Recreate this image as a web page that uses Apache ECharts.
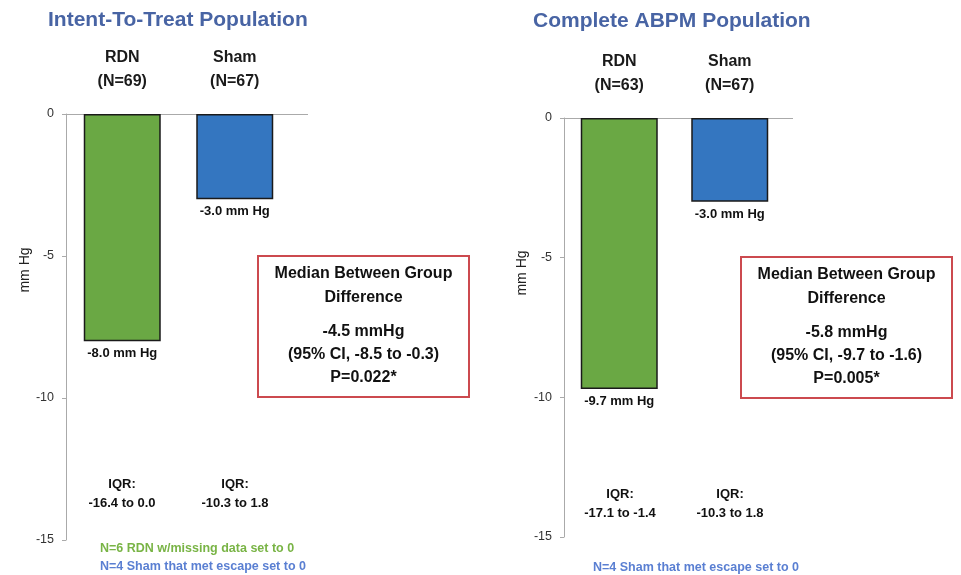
<!DOCTYPE html>
<html>
<head>
<meta charset="utf-8">
<script src="https://cdn.jsdelivr.net/npm/echarts@6/dist/echarts.min.js"></script>
<style>
html,body{margin:0;padding:0;background:#fff;}
#chart{width:961px;height:575px;}
</style>
</head>
<body>
<div id="chart"></div>
<script>
// ---- data ----
const panelTitles = ['Intent-To-Treat Population', 'Complete ABPM Population'];
const categoriesITT = ['RDN\n(N=69)', 'Sham\n(N=67)'];
const valuesITT = [-8.0, -3.0];
const categoriesABPM = ['RDN\n(N=63)', 'Sham\n(N=67)'];
const valuesABPM = [-9.7, -3.0];
const iqrITT = ['-16.4 to 0.0', '-10.3 to 1.8'];
const iqrABPM = ['-17.1 to -1.4', '-10.3 to 1.8'];
const boxITT = ['Median Between Group', 'Difference', '-4.5 mmHg', '(95% CI, -8.5 to -0.3)', 'P=0.022*'];
const boxABPM = ['Median Between Group', 'Difference', '-5.8 mmHg', '(95% CI, -9.7 to -1.6)', 'P=0.005*'];
const notesITT = ['N=6 RDN w/missing data set to 0', 'N=4 Sham that met escape set to 0'];
const notesABPM = ['N=4 Sham that met escape set to 0'];
const yMin = -15, yMax = 0, yStep = 5;
const yAxisName = 'mm Hg';

// ---- styles ----
const FONT = '"Liberation Sans", Arial, sans-serif';
const GREEN = '#6aa844';
const BLUE = '#3476c0';
const TITLE_COLOR = '#4864a4';
const BOX_RED = '#cc4a4f';
const NOTE_GREEN = '#79b446';
const NOTE_BLUE = '#5a7fd2';

const chart = echarts.init(document.getElementById('chart'));

const grids = [
  {left: 66, top: 114, width: 225, height: 426},
  {left: 564, top: 118, width: 221, height: 419}
];

function xAxisFor(i, cats) {
  return {
    type: 'category', gridIndex: i, position: 'top', data: cats,
    axisLine: {show: true, lineStyle: {color: '#aaaaaa', width: 1}},
    axisTick: {show: false},
    axisLabel: {color: '#1a1a1a', fontFamily: FONT, fontWeight: 'bold', fontSize: 16, lineHeight: 24, margin: 20}
  };
}
function yAxisFor(i) {
  return {
    type: 'value', gridIndex: i, min: yMin, max: yMax, interval: yStep,
    axisLine: {show: true, lineStyle: {color: '#aaaaaa', width: 1}},
    axisTick: {show: true, length: 4, lineStyle: {color: '#aaaaaa'}},
    splitLine: {show: false},
    axisLabel: {color: '#333', fontFamily: FONT, fontSize: 12.5, margin: 12}
  };
}
function barSeries(i, vals) {
  return {
    type: 'bar', xAxisIndex: i, yAxisIndex: i, barWidth: 77,
    data: vals.map((v, k) => ({value: v, itemStyle: {color: k === 0 ? GREEN : BLUE}})),
    itemStyle: {borderColor: '#1a1a1a', borderWidth: 1.5},
    label: {
      show: true, position: 'bottom', distance: 6,
      fontFamily: FONT, fontWeight: 'bold', fontSize: 13, color: '#111',
      formatter: p => p.value.toFixed(1) + ' mm Hg'
    },
    emphasis: {disabled: true},
    silent: true
  };
}

function txt(x, y, text, opts) {
  opts = opts || {};
  return {
    type: 'text', x: x, y: y, rotation: opts.rotation || 0, silent: true,
    style: {
      text: text, fill: opts.color || '#111',
      font: (opts.weight || 'bold') + ' ' + (opts.size || 13) + 'px ' + FONT,
      textAlign: opts.align || 'center', textVerticalAlign: 'middle', verticalAlign: 'middle'
    }
  };
}

const graphics = [];
// zero-line extensions
graphics.push({type: 'line', silent: true, shape: {x1: 291, y1: 114.5, x2: 308, y2: 114.5}, style: {stroke: '#aaaaaa', lineWidth: 1}});
graphics.push({type: 'line', silent: true, shape: {x1: 785, y1: 118.5, x2: 793, y2: 118.5}, style: {stroke: '#aaaaaa', lineWidth: 1}});
// y-axis names
graphics.push(txt(25, 270, yAxisName, {rotation: Math.PI / 2, weight: 'normal', size: 14, color: '#222'}));
graphics.push(txt(522, 273, yAxisName, {rotation: Math.PI / 2, weight: 'normal', size: 14, color: '#222'}));
// IQR labels
const iqrX1 = [122, 235], iqrX2 = [620, 730];
iqrITT.forEach((t, k) => { graphics.push(txt(iqrX1[k], 484, 'IQR:')); graphics.push(txt(iqrX1[k], 503, t)); });
iqrABPM.forEach((t, k) => { graphics.push(txt(iqrX2[k], 494, 'IQR:')); graphics.push(txt(iqrX2[k], 513, t)); });
// boxes
function box(x, y, w, h, lines) {
  graphics.push({type: 'rect', silent: true, shape: {x: x, y: y, width: w, height: h}, style: {fill: '#fff', stroke: BOX_RED, lineWidth: 2}});
  const ys = [y + 18, y + 42, y + 76, y + 99, y + 122];
  lines.forEach((l, k) => graphics.push(txt(x + w / 2, ys[k], l, {size: 16})));
}
box(258, 256, 211, 141, boxITT);
box(741, 257, 211, 141, boxABPM);
// notes
graphics.push(txt(100, 549, notesITT[0], {align: 'left', size: 12.5, color: NOTE_GREEN}));
graphics.push(txt(100, 567, notesITT[1], {align: 'left', size: 12.5, color: NOTE_BLUE}));
graphics.push(txt(696, 568, notesABPM[0], {size: 12.5, color: NOTE_BLUE}));

chart.setOption({
  backgroundColor: '#ffffff',
  animation: false,
  title: [
    {text: panelTitles[0], left: 43, top: 5, textStyle: {fontFamily: FONT, fontWeight: 'bold', fontSize: 21, color: TITLE_COLOR}},
    {text: panelTitles[1], left: 528, top: 6, textStyle: {fontFamily: FONT, fontWeight: 'bold', fontSize: 21, color: TITLE_COLOR}}
  ],
  grid: grids,
  xAxis: [xAxisFor(0, categoriesITT), xAxisFor(1, categoriesABPM)],
  yAxis: [yAxisFor(0), yAxisFor(1)],
  series: [barSeries(0, valuesITT), barSeries(1, valuesABPM)],
  graphic: graphics
});
</script>
</body>
</html>
